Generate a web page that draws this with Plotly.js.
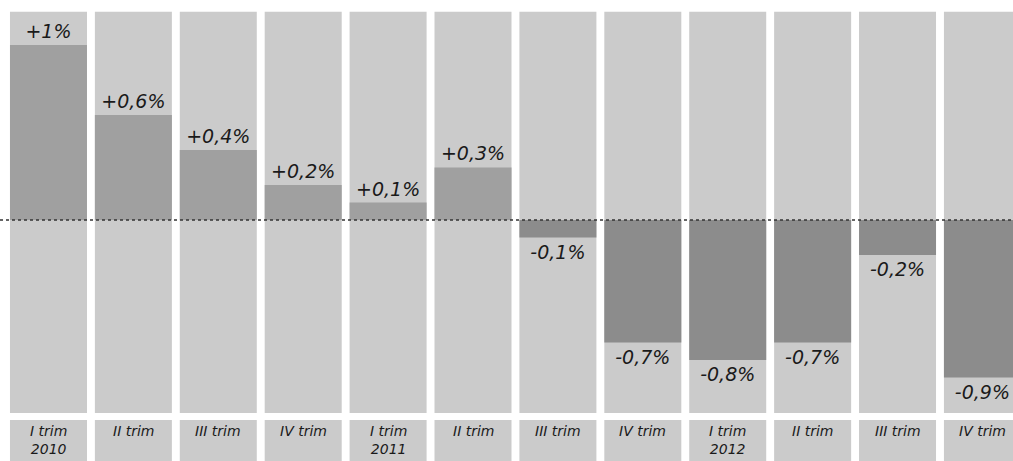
<!DOCTYPE html>
<html>
<head>
<meta charset="utf-8">
<script src="https://cdn.plot.ly/plotly-3.0.1.min.js"></script>
<style>html,body{margin:0;padding:0;background:#fff}#chart{width:1013px;height:461px}</style>
</head>
<body>
<div id="chart"></div>
<script>
// Data
const quarters = ['I trim','II trim','III trim','IV trim','I trim','II trim','III trim','IV trim','I trim','II trim','III trim','IV trim'];
const years    = ['2010','','','','2011','','','','2012','','',''];
const values   = [1.0, 0.6, 0.4, 0.2, 0.1, 0.3, -0.1, -0.7, -0.8, -0.7, -0.2, -0.9];

const idx = quarters.map((q, i) => i);
const fmt = v => (v > 0 ? '+' : '') + String(v).replace('.', ',') + '%';
const valueLabels = values.map(fmt);

// geometry (axis units): zero at 220px, 1% = 175px
const colTop = 1.19, colBottom = -1.103;
const boxTop = -1.143, boxBottom = -1.5;
const barW = 0.907;

const bgCol = {
  type: 'bar', x: idx, y: idx.map(() => colTop - colBottom), base: idx.map(() => colBottom),
  width: barW, marker: {color: '#cbcbcb', line: {width: 0}}, hoverinfo: 'skip', showlegend: false
};
const labelBox = {
  type: 'bar', x: idx, y: idx.map(() => boxTop - boxBottom), base: idx.map(() => boxBottom),
  width: barW, marker: {color: '#cbcbcb', line: {width: 0}}, hoverinfo: 'skip', showlegend: false
};
const valueBars = {
  type: 'bar', x: idx, y: values, width: barW,
  marker: {color: values.map(v => v >= 0 ? '#a0a0a0' : '#8c8c8c'), line: {width: 0}},
  text: valueLabels, textposition: 'outside', cliponaxis: false,
  outsidetextfont: {family: 'DejaVu Sans', size: 19, color: '#1a1a1a', style: 'italic'},
  hoverinfo: 'skip', showlegend: false
};

const annotations = idx.map(i => ({
  x: i, y: boxTop - 0.012, xref: 'x', yref: 'y', yanchor: 'top', xanchor: 'center',
  text: quarters[i] + (years[i] ? '<br>' + years[i] : ''),
  showarrow: false, align: 'center', borderpad: 0,
  font: {family: 'DejaVu Sans', size: 14, color: '#1a1a1a', style: 'italic'}
}));

const layout = {
  width: 1013, height: 461,
  margin: {l: 0, r: 0, t: 0, b: 0, pad: 0},
  paper_bgcolor: '#ffffff', plot_bgcolor: '#ffffff',
  barmode: 'overlay',
  xaxis: {range: [-0.571, 11.36], showgrid: false, zeroline: false, showticklabels: false, showline: false, fixedrange: true},
  yaxis: {range: [-1.377, 1.257], showgrid: false, zeroline: false, showticklabels: false, showline: false, fixedrange: true},
  shapes: [{type: 'line', xref: 'paper', x0: 0, x1: 1, yref: 'y', y0: 0, y1: 0,
            line: {color: '#333', width: 1.5, dash: 'dot'}, layer: 'above'}],
  annotations: annotations,
  showlegend: false
};

Plotly.newPlot('chart', [bgCol, labelBox, valueBars], layout, {displayModeBar: false, staticPlot: true});
</script>
</body>
</html>
